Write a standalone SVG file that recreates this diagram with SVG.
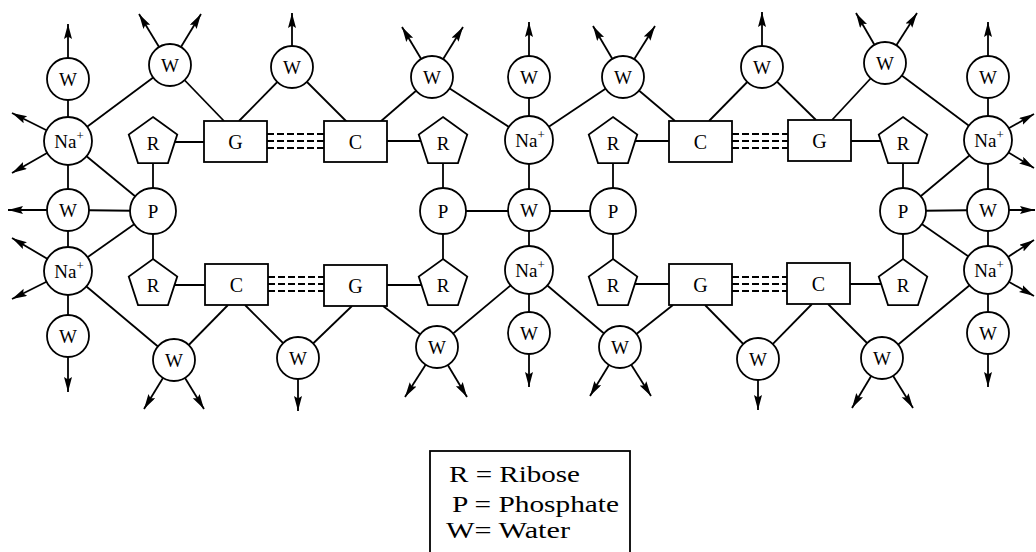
<svg xmlns="http://www.w3.org/2000/svg" width="1036" height="552" viewBox="0 0 1036 552">
<style>
.ln{stroke:#000;stroke-width:1.8;fill:none}
.ar{stroke:#000;stroke-width:1.8;fill:none;marker-end:url(#ah)}
.dash{stroke:#000;stroke-width:1.8;stroke-dasharray:7 3;fill:none}
.nd{fill:#fff;stroke:#000;stroke-width:1.8}
.t{font-family:"Liberation Serif","Times New Roman",serif;font-size:19px;text-anchor:middle;fill:#000}
.tb{font-family:"Liberation Serif","Times New Roman",serif;font-size:20px;text-anchor:middle;fill:#000}
.sup{font-size:13px}
.lg{font-family:"Liberation Serif","Times New Roman",serif;font-size:23px;fill:#000}
</style>
<defs>
<marker id="ah" markerUnits="userSpaceOnUse" markerWidth="17" markerHeight="10" refX="15" refY="4" orient="auto">
<path d="M0,0 L15,4 L0,8 L2.5,4 Z" fill="#000"/>
</marker>
<path id="pent" d="M0,-25.5 L24.25,-7.88 L14.99,20.63 L-14.99,20.63 L-24.25,-7.88 Z"/>
</defs>

<g id="connectors">
<line class="ln" x1="68" y1="79" x2="68" y2="336"/>
<line class="ln" x1="68" y1="141" x2="170" y2="65"/>
<line class="ln" x1="68" y1="141" x2="153" y2="211"/>
<line class="ln" x1="68" y1="271" x2="153" y2="211"/>
<line class="ln" x1="68" y1="271" x2="174" y2="360"/>
<line class="ln" x1="68" y1="210" x2="153" y2="211"/>
<line class="ln" x1="170" y1="65" x2="224" y2="121"/>
<line class="ln" x1="292" y1="67" x2="239" y2="121"/>
<line class="ln" x1="292" y1="67" x2="347" y2="122"/>
<line class="ln" x1="432" y1="77" x2="380" y2="122"/>
<line class="ln" x1="432" y1="77" x2="529" y2="140"/>
<line class="ln" x1="529" y1="77" x2="529" y2="333"/>
<line class="ln" x1="623" y1="77" x2="529" y2="140"/>
<line class="ln" x1="623" y1="77" x2="675" y2="121"/>
<line class="ln" x1="762" y1="67" x2="709" y2="121"/>
<line class="ln" x1="762" y1="67" x2="816" y2="120"/>
<line class="ln" x1="885" y1="63" x2="832" y2="120"/>
<line class="ln" x1="885" y1="63" x2="988" y2="140"/>
<line class="ln" x1="988" y1="77" x2="988" y2="333"/>
<line class="ln" x1="988" y1="140" x2="903" y2="211"/>
<line class="ln" x1="988" y1="270" x2="903" y2="211"/>
<line class="ln" x1="988" y1="270" x2="882" y2="358"/>
<line class="ln" x1="903" y1="211" x2="988" y2="210"/>
<line class="ln" x1="443" y1="211" x2="613" y2="211"/>
<line class="ln" x1="153" y1="142" x2="153" y2="285"/>
<line class="ln" x1="443" y1="142" x2="443" y2="285"/>
<line class="ln" x1="613" y1="142" x2="613" y2="285"/>
<line class="ln" x1="903" y1="142" x2="903" y2="285"/>
<line class="ln" x1="153" y1="142" x2="204" y2="142"/>
<line class="ln" x1="387" y1="141" x2="443" y2="141"/>
<line class="ln" x1="613" y1="141" x2="669" y2="141"/>
<line class="ln" x1="851" y1="141" x2="903" y2="141"/>
<line class="ln" x1="153" y1="285" x2="205" y2="285"/>
<line class="ln" x1="387" y1="285" x2="443" y2="285"/>
<line class="ln" x1="613" y1="284" x2="669" y2="284"/>
<line class="ln" x1="850" y1="284" x2="903" y2="284"/>
<line class="dash" x1="267" y1="134" x2="324" y2="134"/>
<line class="dash" x1="267" y1="141" x2="324" y2="141"/>
<line class="dash" x1="267" y1="148" x2="324" y2="148"/>
<line class="dash" x1="732" y1="134" x2="788" y2="134"/>
<line class="dash" x1="732" y1="141" x2="788" y2="141"/>
<line class="dash" x1="732" y1="148" x2="788" y2="148"/>
<line class="dash" x1="268" y1="277" x2="324" y2="277"/>
<line class="dash" x1="268" y1="284" x2="324" y2="284"/>
<line class="dash" x1="268" y1="291" x2="324" y2="291"/>
<line class="dash" x1="732" y1="277" x2="787" y2="277"/>
<line class="dash" x1="732" y1="284" x2="787" y2="284"/>
<line class="dash" x1="732" y1="291" x2="787" y2="291"/>
<line class="ln" x1="174" y1="360" x2="228" y2="305"/>
<line class="ln" x1="298" y1="358" x2="245" y2="305"/>
<line class="ln" x1="298" y1="358" x2="352" y2="306"/>
<line class="ln" x1="437" y1="347" x2="383" y2="306"/>
<line class="ln" x1="437" y1="347" x2="529" y2="270"/>
<line class="ln" x1="620" y1="347" x2="529" y2="270"/>
<line class="ln" x1="620" y1="347" x2="673" y2="305"/>
<line class="ln" x1="758" y1="359" x2="705" y2="305"/>
<line class="ln" x1="758" y1="359" x2="812" y2="304"/>
<line class="ln" x1="882" y1="358" x2="828" y2="304"/>
<line class="ar" x1="68" y1="79" x2="68" y2="24"/>
<line class="ar" x1="68" y1="141" x2="12" y2="113"/>
<line class="ar" x1="68" y1="141" x2="12" y2="173"/>
<line class="ar" x1="68" y1="210" x2="8" y2="210"/>
<line class="ar" x1="68" y1="271" x2="12" y2="238"/>
<line class="ar" x1="68" y1="271" x2="12" y2="299"/>
<line class="ar" x1="68" y1="336" x2="68" y2="392"/>
<line class="ar" x1="170" y1="65" x2="139" y2="14"/>
<line class="ar" x1="170" y1="65" x2="201" y2="14"/>
<line class="ar" x1="292" y1="67" x2="292" y2="13"/>
<line class="ar" x1="432" y1="77" x2="402" y2="27"/>
<line class="ar" x1="432" y1="77" x2="463" y2="27"/>
<line class="ar" x1="529" y1="77" x2="529" y2="22"/>
<line class="ar" x1="623" y1="77" x2="593" y2="26"/>
<line class="ar" x1="623" y1="77" x2="655" y2="26"/>
<line class="ar" x1="762" y1="67" x2="762" y2="12"/>
<line class="ar" x1="885" y1="63" x2="856" y2="13"/>
<line class="ar" x1="885" y1="63" x2="917" y2="13"/>
<line class="ar" x1="988" y1="77" x2="988" y2="22"/>
<line class="ar" x1="988" y1="140" x2="1034" y2="114"/>
<line class="ar" x1="988" y1="140" x2="1034" y2="168"/>
<line class="ar" x1="988" y1="210" x2="1035" y2="210"/>
<line class="ar" x1="988" y1="270" x2="1034" y2="240"/>
<line class="ar" x1="988" y1="270" x2="1034" y2="296"/>
<line class="ar" x1="988" y1="333" x2="988" y2="387"/>
<line class="ar" x1="174" y1="360" x2="144" y2="409"/>
<line class="ar" x1="174" y1="360" x2="204" y2="409"/>
<line class="ar" x1="298" y1="358" x2="298" y2="411"/>
<line class="ar" x1="437" y1="347" x2="405" y2="397"/>
<line class="ar" x1="437" y1="347" x2="467" y2="397"/>
<line class="ar" x1="529" y1="333" x2="529" y2="387"/>
<line class="ar" x1="620" y1="347" x2="590" y2="396"/>
<line class="ar" x1="620" y1="347" x2="651" y2="396"/>
<line class="ar" x1="758" y1="359" x2="758" y2="410"/>
<line class="ar" x1="882" y1="358" x2="852" y2="408"/>
<line class="ar" x1="882" y1="358" x2="913" y2="408"/>
</g>

<g id="w-l1"><circle class="nd" cx="68" cy="79" r="21"/><text class="t" x="68" y="86">W</text></g>
<g id="na-l1"><circle class="nd" cx="68" cy="141" r="24"/><text class="t" x="69" y="148">Na<tspan class="sup" dy="-8">+</tspan></text></g>
<g id="w-l2"><circle class="nd" cx="68" cy="210" r="21"/><text class="t" x="68" y="217">W</text></g>
<g id="na-l2"><circle class="nd" cx="68" cy="271" r="24"/><text class="t" x="69" y="278">Na<tspan class="sup" dy="-8">+</tspan></text></g>
<g id="w-l3"><circle class="nd" cx="68" cy="336" r="21"/><text class="t" x="68" y="343">W</text></g>

<g id="w-m1"><circle class="nd" cx="529" cy="77" r="21"/><text class="t" x="529" y="84">W</text></g>
<g id="na-m1"><circle class="nd" cx="529" cy="140" r="24"/><text class="t" x="530" y="147">Na<tspan class="sup" dy="-8">+</tspan></text></g>
<g id="w-m2"><circle class="nd" cx="529" cy="210" r="21"/><text class="t" x="529" y="217">W</text></g>
<g id="na-m2"><circle class="nd" cx="529" cy="270" r="24"/><text class="t" x="530" y="277">Na<tspan class="sup" dy="-8">+</tspan></text></g>
<g id="w-m3"><circle class="nd" cx="529" cy="333" r="21"/><text class="t" x="529" y="340">W</text></g>

<g id="w-r1"><circle class="nd" cx="988" cy="77" r="21"/><text class="t" x="988" y="84">W</text></g>
<g id="na-r1"><circle class="nd" cx="988" cy="140" r="24"/><text class="t" x="989" y="147">Na<tspan class="sup" dy="-8">+</tspan></text></g>
<g id="w-r2"><circle class="nd" cx="988" cy="210" r="21"/><text class="t" x="988" y="217">W</text></g>
<g id="na-r2"><circle class="nd" cx="988" cy="270" r="24"/><text class="t" x="989" y="277">Na<tspan class="sup" dy="-8">+</tspan></text></g>
<g id="w-r3"><circle class="nd" cx="988" cy="333" r="21"/><text class="t" x="988" y="340">W</text></g>

<g id="w-t1"><circle class="nd" cx="170" cy="65" r="21"/><text class="t" x="170" y="72">W</text></g>
<g id="w-t2"><circle class="nd" cx="292" cy="67" r="21"/><text class="t" x="292" y="74">W</text></g>
<g id="w-t3"><circle class="nd" cx="432" cy="77" r="21"/><text class="t" x="432" y="84">W</text></g>
<g id="w-t4"><circle class="nd" cx="623" cy="77" r="21"/><text class="t" x="623" y="84">W</text></g>
<g id="w-t5"><circle class="nd" cx="762" cy="67" r="21"/><text class="t" x="762" y="74">W</text></g>
<g id="w-t6"><circle class="nd" cx="885" cy="63" r="21"/><text class="t" x="885" y="70">W</text></g>

<g id="w-b1"><circle class="nd" cx="174" cy="360" r="21"/><text class="t" x="174" y="367">W</text></g>
<g id="w-b2"><circle class="nd" cx="298" cy="358" r="21"/><text class="t" x="298" y="365">W</text></g>
<g id="w-b3"><circle class="nd" cx="437" cy="347" r="21"/><text class="t" x="437" y="354">W</text></g>
<g id="w-b4"><circle class="nd" cx="620" cy="347" r="21"/><text class="t" x="620" y="354">W</text></g>
<g id="w-b5"><circle class="nd" cx="758" cy="359" r="21"/><text class="t" x="758" y="366">W</text></g>
<g id="w-b6"><circle class="nd" cx="882" cy="358" r="21"/><text class="t" x="882" y="365">W</text></g>

<g id="p1"><circle class="nd" cx="153" cy="211" r="23"/><text class="t" x="153" y="218">P</text></g>
<g id="p2"><circle class="nd" cx="443" cy="211" r="23"/><text class="t" x="443" y="218">P</text></g>
<g id="p3"><circle class="nd" cx="613" cy="211" r="23"/><text class="t" x="613" y="218">P</text></g>
<g id="p4"><circle class="nd" cx="903" cy="211" r="23"/><text class="t" x="903" y="218">P</text></g>

<g id="r1"><use href="#pent" class="nd" x="153" y="142.5"/><text class="t" x="153" y="150">R</text></g>
<g id="r2"><use href="#pent" class="nd" x="443" y="142.5"/><text class="t" x="443" y="150">R</text></g>
<g id="r3"><use href="#pent" class="nd" x="613" y="142.5"/><text class="t" x="613" y="150">R</text></g>
<g id="r4"><use href="#pent" class="nd" x="903" y="142.5"/><text class="t" x="903" y="150">R</text></g>
<g id="r5"><use href="#pent" class="nd" x="153" y="284.5"/><text class="t" x="153" y="292">R</text></g>
<g id="r6"><use href="#pent" class="nd" x="443" y="284.5"/><text class="t" x="443" y="292">R</text></g>
<g id="r7"><use href="#pent" class="nd" x="613" y="284.5"/><text class="t" x="613" y="292">R</text></g>
<g id="r8"><use href="#pent" class="nd" x="903" y="284.5"/><text class="t" x="903" y="292">R</text></g>

<g id="g1"><rect class="nd" x="204" y="121" width="63" height="41"/><text class="tb" x="235.5" y="148.5">G</text></g>
<g id="c1"><rect class="nd" x="324" y="121" width="63" height="41"/><text class="tb" x="355.5" y="148.5">C</text></g>
<g id="c2"><rect class="nd" x="669" y="121" width="63" height="41"/><text class="tb" x="700.5" y="148.5">C</text></g>
<g id="g2"><rect class="nd" x="788" y="120" width="63" height="41"/><text class="tb" x="819.5" y="147.5">G</text></g>
<g id="c3"><rect class="nd" x="205" y="264" width="63" height="41"/><text class="tb" x="236.5" y="291.5">C</text></g>
<g id="g3"><rect class="nd" x="324" y="265" width="63" height="41"/><text class="tb" x="355.5" y="292.5">G</text></g>
<g id="g4"><rect class="nd" x="669" y="264" width="63" height="41"/><text class="tb" x="700.5" y="291.5">G</text></g>
<g id="c4"><rect class="nd" x="787" y="263" width="63" height="41"/><text class="tb" x="818.5" y="290.5">C</text></g>

<g id="legend">
<rect x="430" y="451" width="200" height="120" fill="#fff" stroke="#000" stroke-width="1.8"/>
<text class="lg" x="449" y="482" textLength="131" lengthAdjust="spacingAndGlyphs">R = Ribose</text>
<text class="lg" x="452" y="512" textLength="167" lengthAdjust="spacingAndGlyphs">P = Phosphate</text>
<text class="lg" x="446" y="538" textLength="124" lengthAdjust="spacingAndGlyphs">W= Water</text>
</g>
</svg>
